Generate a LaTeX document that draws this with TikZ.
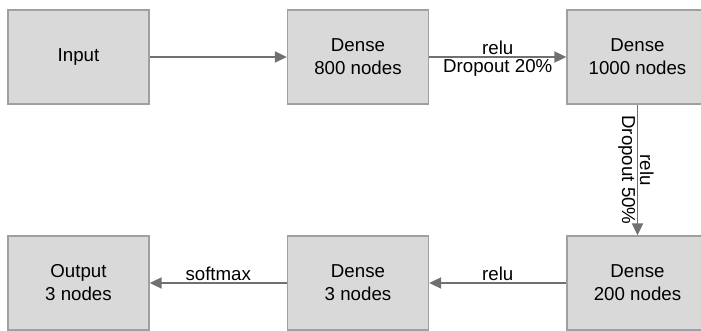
\documentclass[tikz,border=0pt]{standalone}
\usepackage{fontspec}
\setmainfont{Liberation Sans}
\usetikzlibrary{arrows.meta}
\definecolor{boxfill}{HTML}{D9D9D9}
\definecolor{boxline}{HTML}{A0A0A0}
\definecolor{arrowc}{HTML}{707070}
\begin{document}
\begin{tikzpicture}[x=1pt,y=-1pt,
  layer/.style={draw=boxline,line width=1.3pt,fill=boxfill,minimum width=141pt,minimum height=94pt,
    inner sep=0pt,align=center,font=\fontsize{18.7}{23}\selectfont},
  conn/.style={draw=arrowc,line width=1.8pt,-{Triangle[length=12pt,width=11pt]}},
  lbl/.style={font=\fontsize{18.7}{23}\selectfont,inner sep=1.5pt}]
\useasboundingbox (0,0) rectangle (701,331);
\node[layer] (in) at (78.5,57) {Input};
\node[layer] (d800) at (358,57) {Dense\\800 nodes};
\node[layer] (d1000) at (637.5,57) {Dense\\1000 nodes};
\node[layer] (d200) at (637.5,283) {Dense\\200 nodes};
\node[layer] (d3) at (358,283) {Dense\\3 nodes};
\node[layer] (out) at (78.5,283) {Output\\3 nodes};
\draw[conn] (in) -- (d800);
\draw[conn] (d800) -- node[lbl,above] {relu} node[lbl,below] {Dropout 20\%} (d1000);
\draw[conn] (d1000) -- node[lbl,above,sloped] {relu} node[lbl,below,sloped] {Dropout 50\%} (d200);
\draw[conn] (d200) -- node[lbl,above] {relu} (d3);
\draw[conn] (d3) -- node[lbl,above] {softmax} (out);
\end{tikzpicture}
\end{document}
